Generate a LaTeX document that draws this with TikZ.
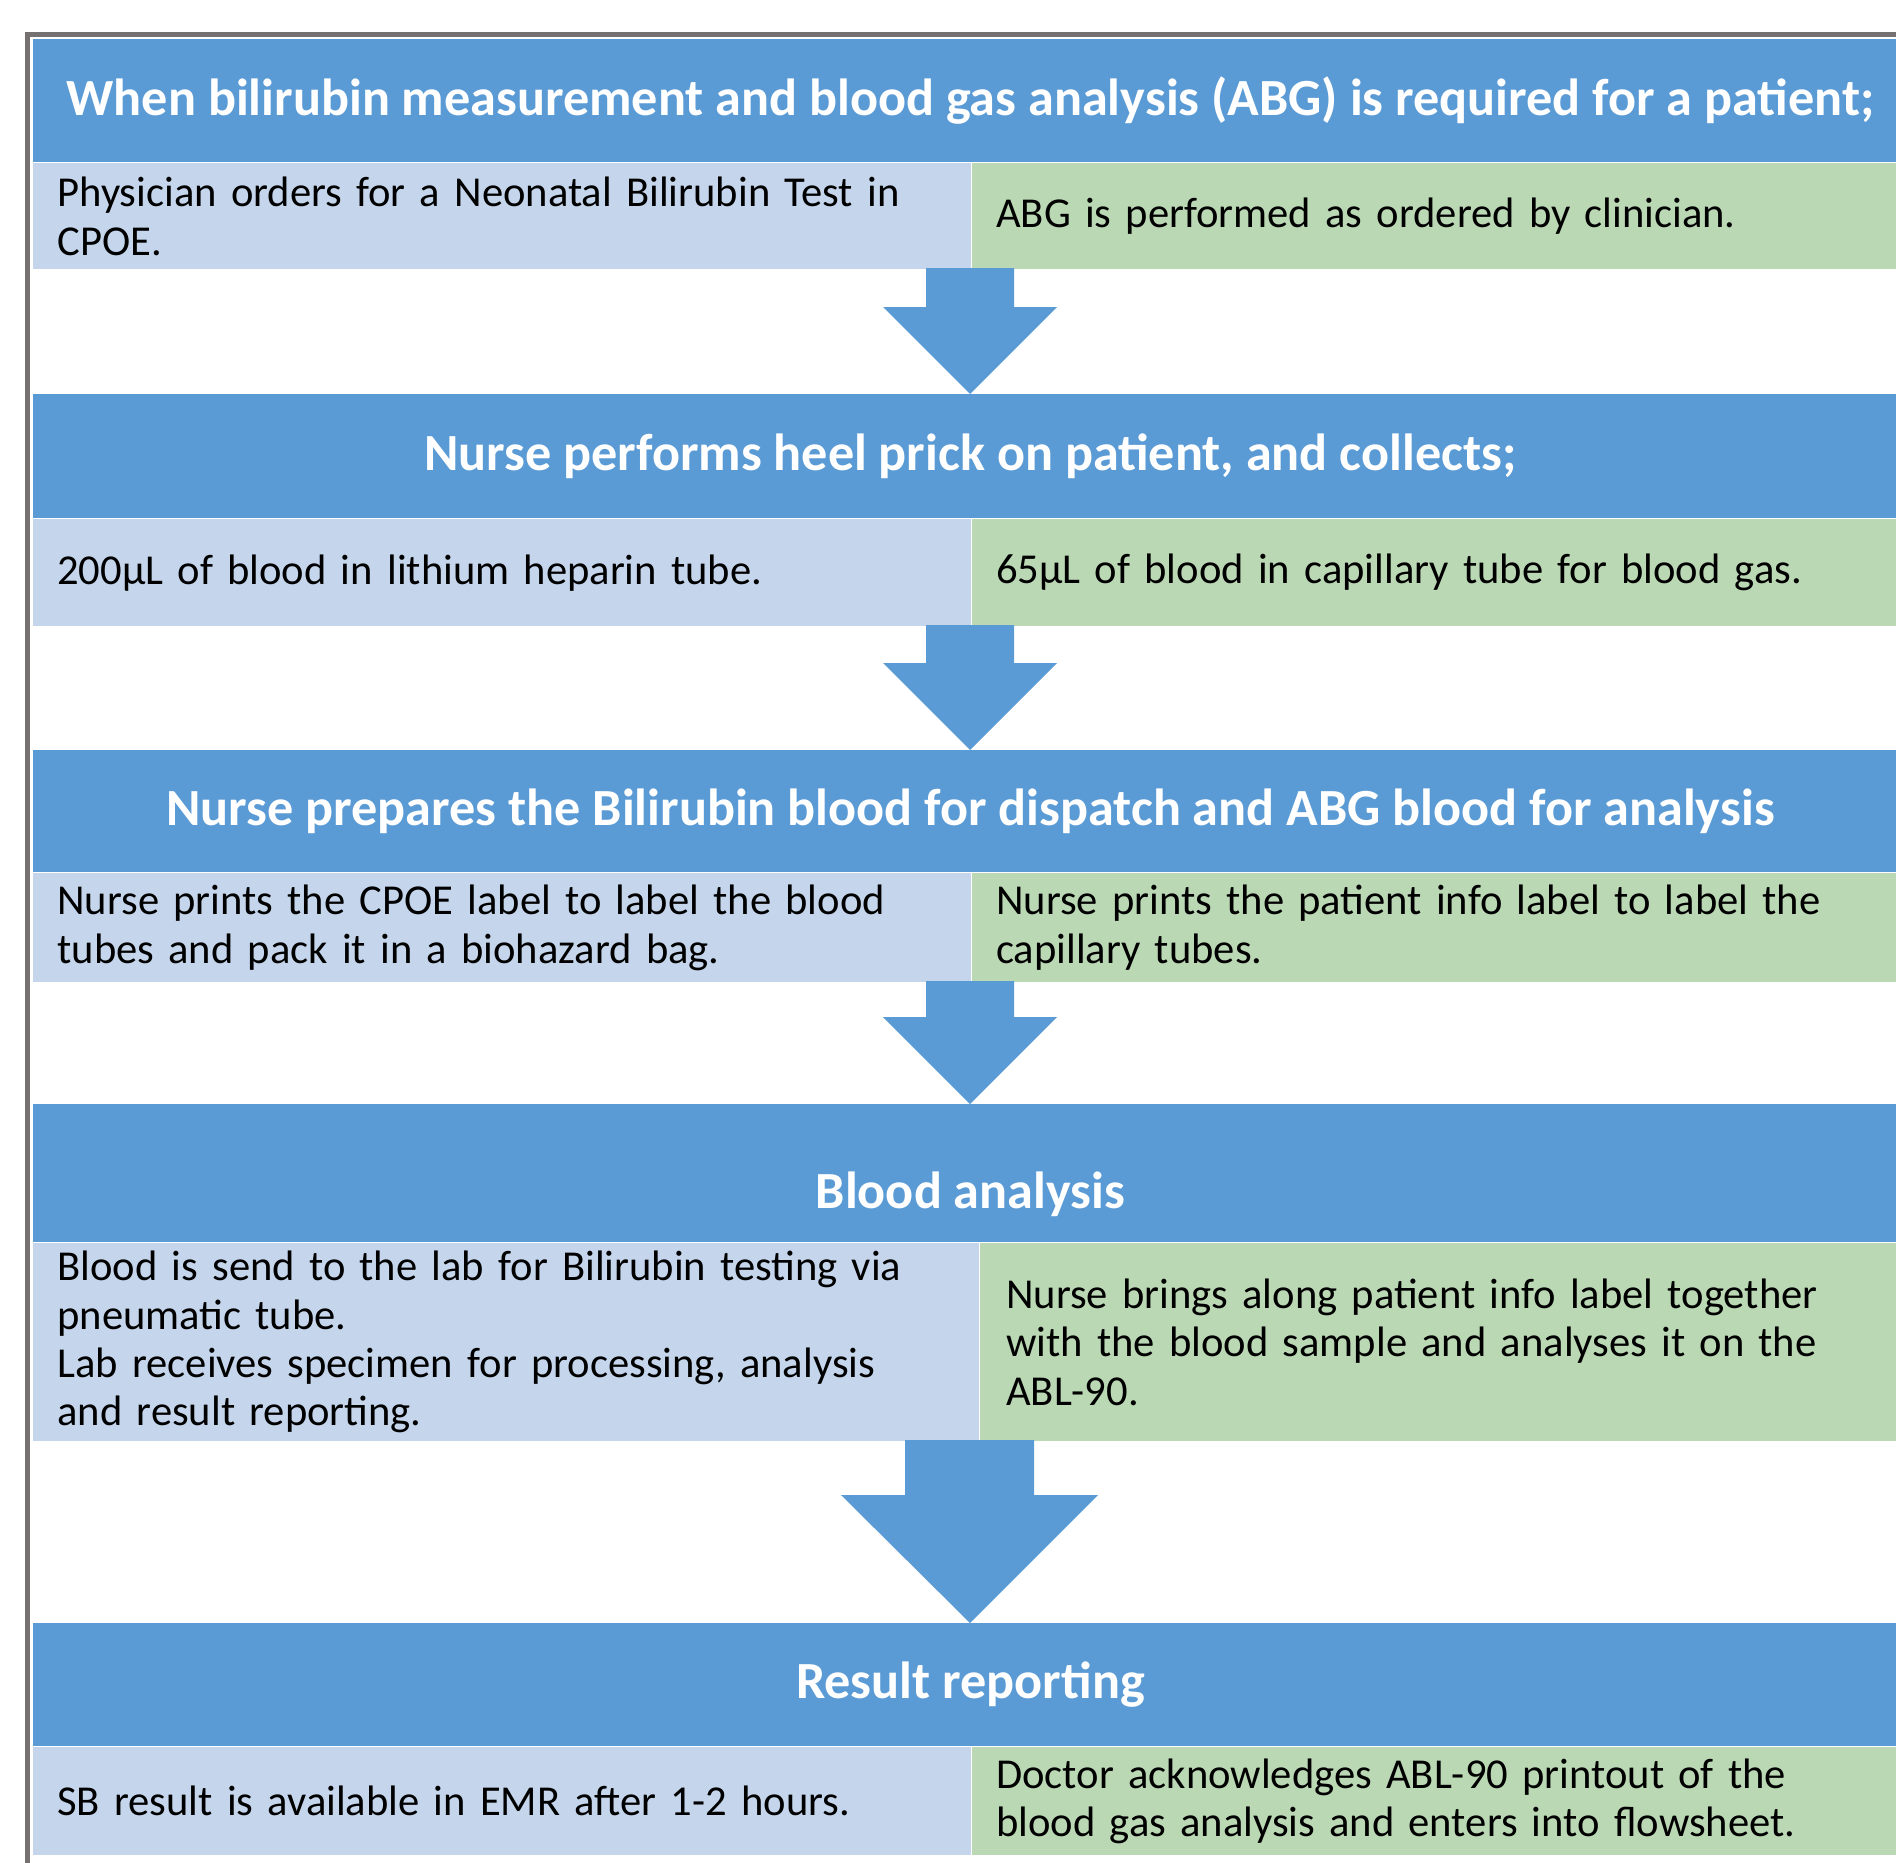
\documentclass[tikz,border=0pt]{standalone}
\usepackage{fontspec}
\setmainfont{Carlito}
\usetikzlibrary{positioning}
\definecolor{hdrblue}{RGB}{91,155,213}
\definecolor{cellblue}{RGB}{197,214,236}
\definecolor{cellgreen}{RGB}{187,216,181}
\definecolor{framegray}{RGB}{118,113,113}
\tikzset{
  hdr/.style={fill=hdrblue, text=white, anchor=north west, inner sep=0pt,
    minimum width=937pt, font=\fontsize{26.1}{30}\selectfont\bfseries},
  cellL/.style={fill=cellblue, anchor=north west, align=left, inner xsep=12pt,
    inner ysep=0pt, text width=445pt, font=\fontsize{21.3}{24.2}\selectfont},
  cellR/.style={cellL, fill=cellgreen, text width=444pt},
}

\begin{document}
\begin{tikzpicture}[x=0.5pt,y=-0.5pt]
\useasboundingbox (0,0) rectangle (1896,1863);
\clip (0,0) rectangle (1896,1863);

%headers
\node[hdr, minimum height=61.5pt] (h1) at (33,39) {When bilirubin measurement and blood gas analysis (ABG) is required for a patient;};
\node[hdr, minimum height=62pt] (h2) at (33,394) {Nurse performs heel prick on patient, and collects;};
\node[hdr, minimum height=61pt] (h3) at (33,750) {Nurse prepares the Bilirubin blood for dispatch and ABG blood for analysis};
\node[hdr, text height=52pt, text depth=17pt] (h4) at (33,1104) {Blood analysis};
\node[hdr, minimum height=61.5pt] (h5) at (33,1623) {Result reporting};

%cells
\node[cellL, minimum height=53pt] (r1l) at (h1.south west) {Physician orders for a Neonatal Bilirubin Test in\\CPOE.};
\node[cellR, minimum height=53pt] (r1r) at (r1l.north east) {ABG is performed as ordered by clinician.};

\node[cellL, minimum height=53.5pt] (r2l) at (h2.south west) {200µL of blood in lithium heparin tube.};
\node[cellR, minimum height=53.5pt] (r2r) at (r2l.north east) {65µL of blood in capillary tube for blood gas.};

\node[cellL, minimum height=54.5pt] (r3l) at (h3.south west) {Nurse prints the CPOE label to label the blood\\tubes and pack it in a biohazard bag.};
\node[cellR, minimum height=54.5pt] (r3r) at (r3l.north east) {Nurse prints the patient info label to label the\\capillary tubes.};

\node[cellL, minimum height=99pt, text width=449pt] (r4l) at (h4.south west) {Blood is send to the lab for Bilirubin testing via\\pneumatic tube.\\Lab receives specimen for processing, analysis\\and result reporting.};
\node[cellR, minimum height=99pt, inner xsep=13pt] (r4r) at (r4l.north east) {Nurse brings along patient info label together\\with the blood sample and analyses it on the\\ABL-90.};

\node[cellL, minimum height=54pt] (r5l) at (h5.south west) {SB result is available in EMR after 1-2 hours.};
\node[cellR, minimum height=54pt] (r5r) at (r5l.north east) {Doctor acknowledges ABL-90 printout of the\\blood gas analysis and enters into flowsheet.};

%arrows
\foreach \t/\hd/\tp in {268/307/394, 625/663/750, 981/1017/1104}
  \fill[hdrblue] (926,\t) -- (1014,\t) -- (1014,\hd) -- (1057,\hd) -- (970,\tp)
    -- (883,\hd) -- (926,\hd) -- cycle;
\fill[hdrblue] (905,1440) -- (1034,1440) -- (1034,1495) -- (1098,1495) -- (970,1623)
  -- (841,1495) -- (905,1495) -- cycle;

%frame
\draw[framegray, line width=2.5pt] (27,1870) -- (27,34) -- (1900,34);
\end{tikzpicture}
\end{document}
